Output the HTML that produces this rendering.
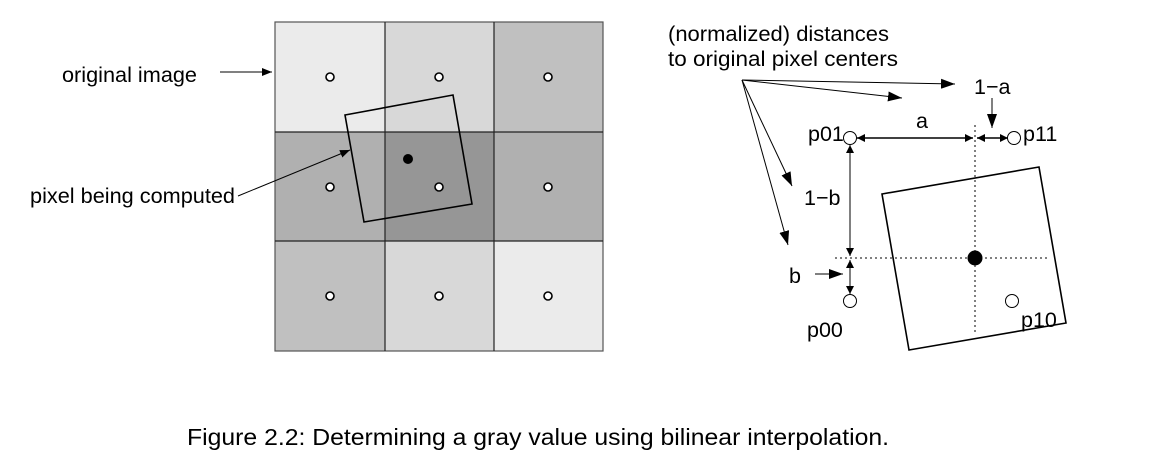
<!DOCTYPE html>
<html><head><meta charset="utf-8"><style>
html,body{margin:0;padding:0;background:#fff;}
svg{display:block;}
text{font-family:"Liberation Sans",sans-serif;font-size:21.5px;fill:#000;}
</style></head><body>
<svg width="1156" height="464" viewBox="0 0 1156 464" xmlns="http://www.w3.org/2000/svg">
<defs>
<marker id="ah" markerWidth="10" markerHeight="8" refX="10" refY="4" orient="auto" markerUnits="userSpaceOnUse"><path d="M0,0 L10,4 L0,8 z" fill="#000"/></marker>
<marker id="ahs" markerWidth="14" markerHeight="10" refX="14" refY="5" orient="auto" markerUnits="userSpaceOnUse"><path d="M0,0 L14,5 L0,10 z" fill="#000"/></marker>
<marker id="as" markerWidth="8" markerHeight="8" refX="8" refY="4" orient="auto-start-reverse" markerUnits="userSpaceOnUse"><path d="M0,0 L8,4 L0,8 z" fill="#000"/></marker>
</defs>
<rect x="275" y="22" width="110" height="110" fill="#ebebeb"/>
<rect x="385" y="22" width="109" height="110" fill="#d8d8d8"/>
<rect x="494" y="22" width="109" height="110" fill="#c0c0c0"/>
<rect x="275" y="132" width="110" height="109" fill="#b0b0b0"/>
<rect x="385" y="132" width="109" height="109" fill="#969696"/>
<rect x="494" y="132" width="109" height="109" fill="#b0b0b0"/>
<rect x="275" y="241" width="110" height="110" fill="#c0c0c0"/>
<rect x="385" y="241" width="109" height="110" fill="#d8d8d8"/>
<rect x="494" y="241" width="109" height="110" fill="#ebebeb"/>
<g stroke="#222" stroke-width="1.2" fill="none">
<rect x="275" y="22" width="328" height="329" stroke="#555"/>
<line x1="385" y1="22" x2="385" y2="351"/><line x1="494" y1="22" x2="494" y2="351"/>
<line x1="275" y1="132" x2="603" y2="132"/><line x1="275" y1="241" x2="603" y2="241"/>
</g>
<g fill="#fff" stroke="#000" stroke-width="1.6">
<circle cx="330" cy="77" r="4"/><circle cx="439" cy="77" r="4"/><circle cx="548" cy="77" r="4"/>
<circle cx="330" cy="187" r="4"/><circle cx="439" cy="187" r="4"/><circle cx="548" cy="187" r="4"/>
<circle cx="330" cy="296" r="4"/><circle cx="439" cy="296" r="4"/><circle cx="548" cy="296" r="4"/>
</g>
<polygon points="345,115 453,95 472,204 364,222" fill="none" stroke="#000" stroke-width="1.6"/>
<circle cx="408" cy="159" r="5" fill="#000"/>
<text x="62" y="82" textLength="135" lengthAdjust="spacingAndGlyphs">original image</text>
<line x1="220" y1="72" x2="272" y2="72" stroke="#000" stroke-width="1" marker-end="url(#ah)"/>
<text x="30" y="203" textLength="205" lengthAdjust="spacingAndGlyphs">pixel being computed</text>
<line x1="238" y1="196" x2="350" y2="150" stroke="#000" stroke-width="1" marker-end="url(#ah)"/>
<text x="668" y="41" textLength="221" lengthAdjust="spacingAndGlyphs">(normalized) distances</text>
<text x="668" y="66" textLength="230" lengthAdjust="spacingAndGlyphs">to original pixel centers</text>
<g stroke="#000" stroke-width="1" fill="none">
<line x1="742" y1="80" x2="955" y2="84" marker-end="url(#ahs)"/>
<line x1="742" y1="80" x2="902" y2="98" marker-end="url(#ahs)"/>
<line x1="742" y1="80" x2="792" y2="186" marker-end="url(#ahs)"/>
<line x1="742" y1="80" x2="788" y2="245" marker-end="url(#ahs)"/>
<line x1="992" y1="98" x2="992" y2="128" marker-end="url(#ahs)"/>
<line x1="815" y1="274" x2="843" y2="274" marker-end="url(#ahs)"/>
<line x1="975" y1="125" x2="975" y2="335" stroke-dasharray="2,3"/>
<line x1="835" y1="258" x2="1050" y2="258" stroke-dasharray="2,3"/>
<line x1="857" y1="138" x2="973" y2="138" stroke-width="1.4" marker-start="url(#as)" marker-end="url(#as)"/>
<line x1="977" y1="138" x2="1008" y2="138" stroke-width="1.4" marker-start="url(#as)" marker-end="url(#as)"/>
<line x1="850" y1="145" x2="850" y2="256" marker-start="url(#as)" marker-end="url(#as)"/>
<line x1="850" y1="260" x2="850" y2="294" marker-start="url(#as)" marker-end="url(#as)"/>
<polygon points="882,194 1039,167 1066,323 909,350" stroke-width="1.6"/>
</g>
<g fill="#fff" stroke="#000" stroke-width="1">
<circle cx="850" cy="138" r="6.5"/><circle cx="1014" cy="138" r="6.5"/>
<circle cx="850" cy="301" r="6.5"/><circle cx="1012" cy="301" r="6.5"/>
</g>
<circle cx="975" cy="258" r="7.5" fill="#000"/>
<text x="974" y="94">1−a</text>
<text x="916" y="128">a</text>
<text x="808" y="141">p01</text>
<text x="1023" y="141">p11</text>
<text x="804" y="205">1−b</text>
<text x="789" y="283">b</text>
<text x="807" y="337">p00</text>
<text x="1021" y="327">p10</text>
<text x="187" y="445" style="font-size:23px" textLength="702" lengthAdjust="spacingAndGlyphs">Figure 2.2: Determining a gray value using bilinear interpolation.</text>
</svg>
</body></html>
